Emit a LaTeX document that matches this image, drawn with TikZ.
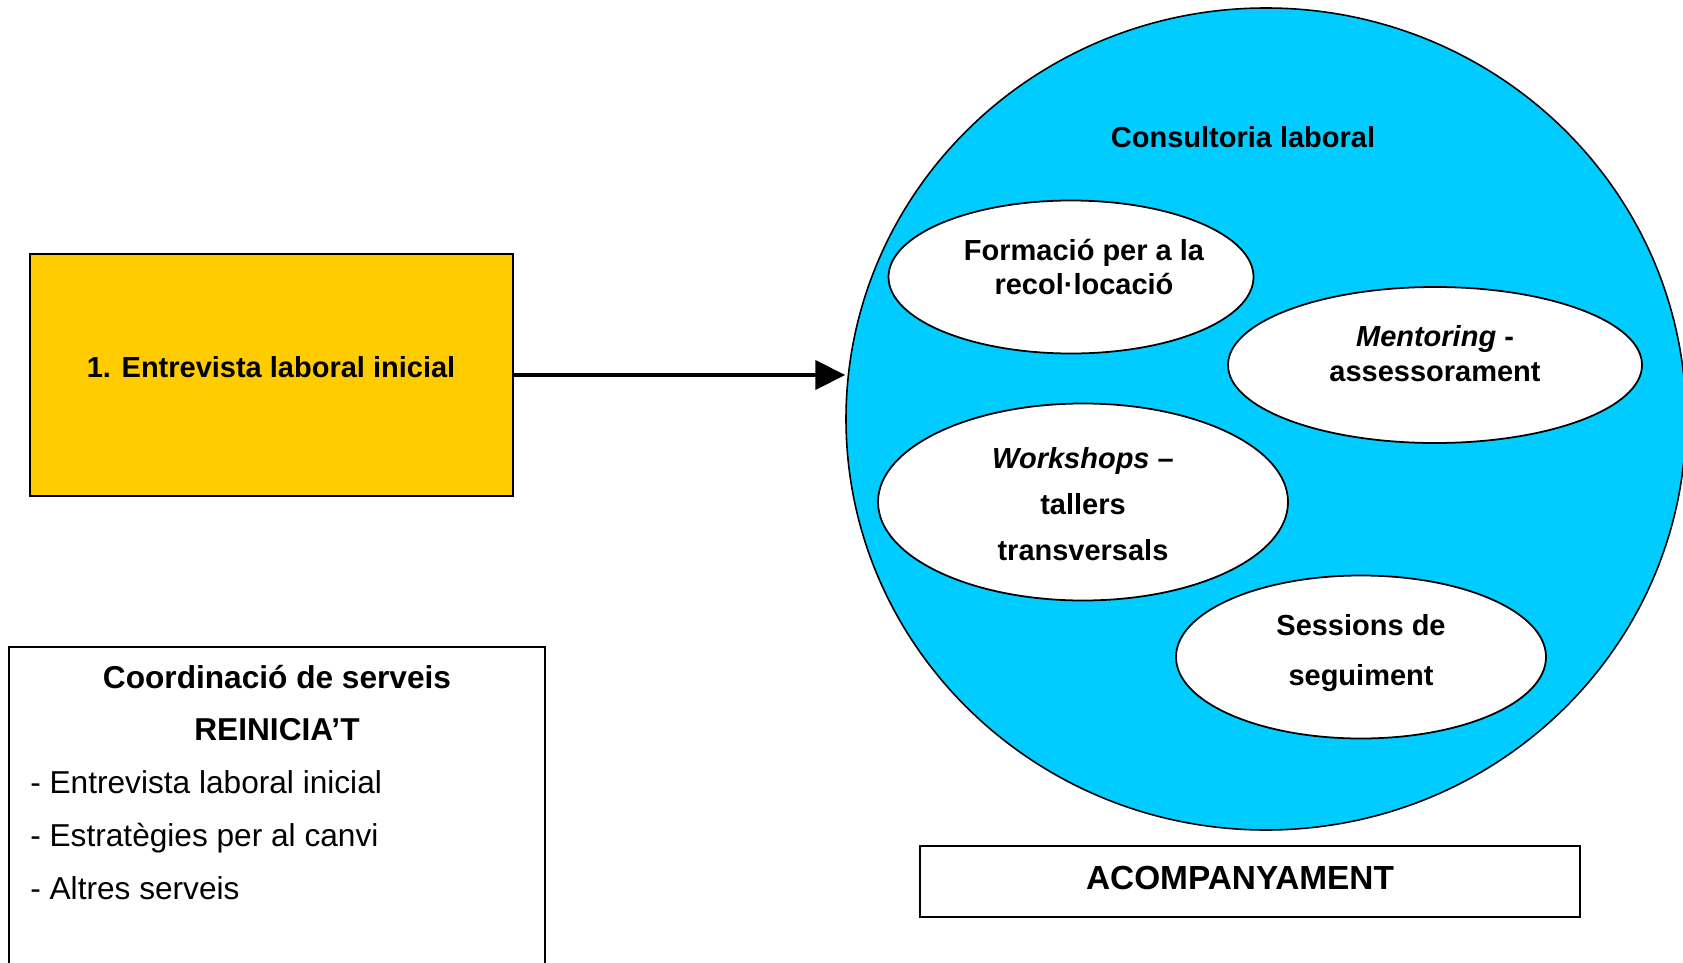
\documentclass[tikz,border=0pt]{standalone}
\usepackage{fontspec}
\setmainfont{Liberation Sans}
\usetikzlibrary{shapes,arrows.meta}
\definecolor{boxyellow}{RGB}{255,204,0}
\definecolor{circleblue}{RGB}{0,204,255}

\tikzset{
  bubble/.style={draw, ellipse, fill=white, line width=1pt, inner sep=0pt},
  bubtxt/.style={align=center, inner sep=0pt, font=\fontsize{16.5}{#1}\selectfont\bfseries},
  listtxt/.style={anchor=base west, inner sep=0pt, font=\fontsize{18}{18}\selectfont},
}

\begin{document}
\begin{tikzpicture}
\useasboundingbox (0,0) rectangle (33.66,-19.26);

\node[xshift=5.43cm,yshift=-7.5cm,draw,rectangle,fill=boxyellow,line width=0.8pt,minimum width=9.66cm,minimum height=4.84cm] (entr) {};
\node[xshift=5.42cm,yshift=-7.34cm,bubtxt=20] (entrtxt) {1. Entrevista laboral inicial};

\node[xshift=25.32cm,yshift=-8.38cm,draw,ellipse,fill=circleblue,line width=0.9pt,minimum width=16.8cm,minimum height=16.44cm] (cons) {};
\node[xshift=24.86cm,yshift=-2.74cm,bubtxt=20] (constxt) {Consultoria laboral};

\node[xshift=21.42cm,yshift=-5.54cm,bubble,minimum width=7.3cm,minimum height=3.06cm] (form) {};
\node[xshift=21.68cm,yshift=-5.34cm,bubtxt=19.3] (formtxt) {Formació per a la\\recol·locació};

\node[xshift=28.7cm,yshift=-7.3cm,bubble,minimum width=8.28cm,minimum height=3.12cm] (ment) {};
\node[xshift=28.7cm,yshift=-7.07cm,bubtxt=20] (menttxt) {\textit{Mentoring} -\\assessorament};

\node[xshift=21.66cm,yshift=-10.04cm,bubble,minimum width=8.2cm,minimum height=3.94cm] (work) {};
\node[xshift=21.66cm,yshift=-10.08cm,bubtxt=26] (worktxt) {\textit{Workshops} –\\tallers\\transversals};

\node[xshift=27.22cm,yshift=-13.14cm,bubble,minimum width=7.4cm,minimum height=3.26cm] (sess) {};
\node[xshift=27.22cm,yshift=-13.07cm,bubtxt=28.5] (sesstxt) {Sessions de\\seguiment};

\node[xshift=25cm,yshift=-17.63cm,draw,rectangle,fill=white,line width=0.8pt,minimum width=13.2cm,minimum height=1.42cm] (acomp) {};
\node[xshift=24.8cm,yshift=-17.56cm,inner sep=0pt,font=\fontsize{19}{20}\selectfont\bfseries] (acomptxt) {ACOMPANYAMENT};

\node[xshift=5.54cm,yshift=-16.22cm,draw,rectangle,fill=white,line width=0.8pt,minimum width=10.72cm,minimum height=6.56cm] (coord) {};
\node[xshift=5.54cm,yshift=-13.54cm,bubtxt=20,font=\fontsize{18}{20}\selectfont\bfseries] (coordtit) {Coordinació de serveis};
\node[xshift=5.54cm,yshift=-14.6cm,bubtxt=20,font=\fontsize{18}{20}\selectfont\bfseries] (reini) {REINICIA’T};
\node[xshift=0.6cm,yshift=-15.86cm,listtxt] (item1) {- Entrevista laboral inicial};
\node[xshift=0.6cm,yshift=-16.92cm,listtxt] (item2) {- Estratègies per al canvi};
\node[xshift=0.6cm,yshift=-17.98cm,listtxt] (item3) {- Altres serveis};

\draw[line width=2.3pt,-{Triangle[length=17pt,width=16.5pt]}] (entr.east) -- (entr.east -| cons.west);
\end{tikzpicture}
\end{document}
